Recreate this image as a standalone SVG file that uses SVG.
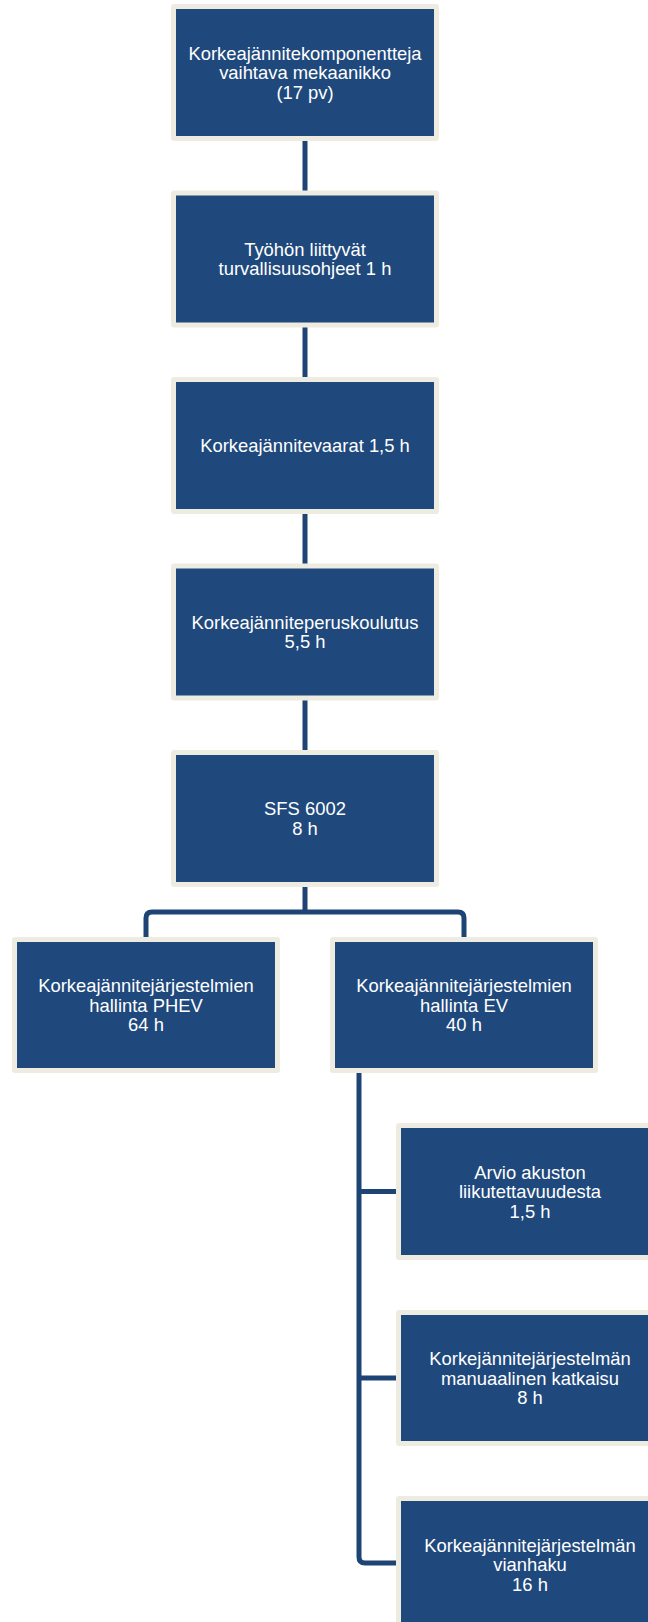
<svg xmlns="http://www.w3.org/2000/svg" width="648" height="1622" viewBox="0 0 648 1622">
<style>
.frame{fill:#EEECE1}
.box{fill:#1F497D}
.lbl{font-family:"Liberation Sans",Arial,sans-serif;font-size:18.4px;fill:#FFFFFF;text-anchor:middle}
.conn{fill:none;stroke:#1D4474;stroke-width:5;stroke-linejoin:round}
</style>
<rect width="648" height="1622" fill="#FFFFFF"/>
<g id="connectors">
<path class="conn" d="M305 72 V912"/>
<path class="conn" d="M146 942 V918 Q146 912 152 912 H458 Q464 912 464 918 V942"/>
<path class="conn" d="M359 1068 V1557 Q359 1563 365 1563 H401"/>
<path class="conn" d="M359 1191.5 H401"/>
<path class="conn" d="M359 1378 H401"/>
</g>
<g id="n1">
<rect class="frame" x="171" y="4" width="268" height="137" rx="3"/>
<rect class="box" x="176" y="9" width="258" height="127"/>
<text class="lbl"><tspan x="305" y="59.5">Korkeajännitekomponentteja</tspan><tspan x="305" y="79">vaihtava mekaanikko</tspan><tspan x="305" y="98.5">(17 pv)</tspan></text>
</g>
<g id="n2">
<rect class="frame" x="171" y="190.5" width="268" height="137" rx="3"/>
<rect class="box" x="176" y="195.5" width="258" height="127"/>
<text class="lbl"><tspan x="305" y="255.5">Työhön liittyvät</tspan><tspan x="305" y="275">turvallisuusohjeet 1 h</tspan></text>
</g>
<g id="n3">
<rect class="frame" x="171" y="377" width="268" height="137" rx="3"/>
<rect class="box" x="176" y="382" width="258" height="127"/>
<text class="lbl"><tspan x="305" y="451.5">Korkeajännitevaarat 1,5 h</tspan></text>
</g>
<g id="n4">
<rect class="frame" x="171" y="563.5" width="268" height="137" rx="3"/>
<rect class="box" x="176" y="568.5" width="258" height="127"/>
<text class="lbl"><tspan x="305" y="628.5">Korkeajänniteperuskoulutus</tspan><tspan x="305" y="648">5,5 h</tspan></text>
</g>
<g id="n5">
<rect class="frame" x="171" y="750" width="268" height="137" rx="3"/>
<rect class="box" x="176" y="755" width="258" height="127"/>
<text class="lbl"><tspan x="305" y="815.25">SFS 6002</tspan><tspan x="305" y="834.75">8 h</tspan></text>
</g>
<g id="n6">
<rect class="frame" x="12" y="937" width="268" height="136" rx="3"/>
<rect class="box" x="17" y="942" width="258" height="126"/>
<text class="lbl"><tspan x="146" y="992">Korkeajännitejärjestelmien</tspan><tspan x="146" y="1011.5">hallinta PHEV</tspan><tspan x="146" y="1031">64 h</tspan></text>
</g>
<g id="n7">
<rect class="frame" x="330" y="937" width="268" height="136" rx="3"/>
<rect class="box" x="335" y="942" width="258" height="126"/>
<text class="lbl"><tspan x="464" y="992">Korkeajännitejärjestelmien</tspan><tspan x="464" y="1011.5">hallinta EV</tspan><tspan x="464" y="1031">40 h</tspan></text>
</g>
<g id="n8">
<rect class="frame" x="396" y="1123" width="268" height="137" rx="3"/>
<rect class="box" x="401" y="1128" width="258" height="127"/>
<text class="lbl"><tspan x="530" y="1178.5">Arvio akuston</tspan><tspan x="530" y="1198">liikutettavuudesta</tspan><tspan x="530" y="1217.5">1,5 h</tspan></text>
</g>
<g id="n9">
<rect class="frame" x="396" y="1310" width="268" height="136" rx="3"/>
<rect class="box" x="401" y="1315" width="258" height="126"/>
<text class="lbl"><tspan x="530" y="1365">Korkejännitejärjestelmän</tspan><tspan x="530" y="1384.5">manuaalinen katkaisu</tspan><tspan x="530" y="1404">8 h</tspan></text>
</g>
<g id="n10">
<rect class="frame" x="396" y="1496" width="268" height="137" rx="3"/>
<rect class="box" x="401" y="1501" width="258" height="127"/>
<text class="lbl"><tspan x="530" y="1551.5">Korkeajännitejärjestelmän</tspan><tspan x="530" y="1571">vianhaku</tspan><tspan x="530" y="1590.5">16 h</tspan></text>
</g>
</svg>
